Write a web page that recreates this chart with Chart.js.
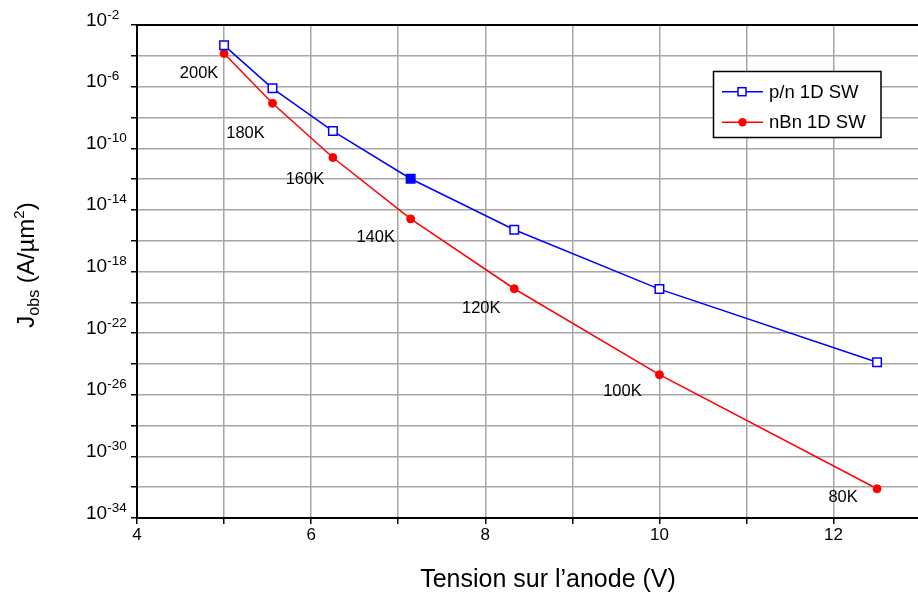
<!DOCTYPE html>
<html>
<head>
<meta charset="utf-8">
<script src="https://cdn.jsdelivr.net/npm/chart.js@4"></script>
<style>
  html, body { margin: 0; padding: 0; background: #fff; }
  canvas { display: block; }
</style>
</head>
<body>
<canvas id="canvasJ" width="918" height="599"></canvas>
<script>
// tension sur l'anode (V) pour chaque température
var tensions = [5.0, 5.556, 6.25, 7.143, 8.333, 10.0, 12.5];
var temperatures = ['200K', '180K', '160K', '140K', '120K', '100K', '80K'];

// densité de courant J_obs (A/µm²)
var pnValues = [4.8e-4, 7.8e-7, 1.3e-9, 1.05e-12, 5.1e-16, 7.2e-20, 1.3e-24];
var nbnValues = [1.4e-4, 8.3e-8, 2.5e-11, 2.6e-15, 7.6e-20, 2.0e-25, 7.9e-33];

var seriesNames = ['p/n 1D SW', 'nBn 1D SW'];

// exposants des graduations de l'axe Y
var yGridExps = [-2, -4, -6, -8, -10, -12, -14, -16, -18, -20, -22, -24, -26, -28, -30, -32, -34];
var yLabelExps = [-2, -6, -10, -14, -18, -22, -26, -30, -34];
var xTicks = [4, 5, 6, 7, 8, 9, 10, 11, 12];
var xLabelTicks = [4, 6, 8, 10, 12];

var FONT = '"Liberation Sans", Arial, sans-serif';

function toPoints(xs, ys) {
  return xs.map(function (x, i) { return { x: x, y: ys[i] }; });
}

// décalage des étiquettes de température par rapport aux points nBn
var labelOffsets = [[-25, 20], [-27, 30], [-28, 22], [-35, 19], [-33, 20], [-37, 17], [-34, 9]];

var decorations = {
  id: 'decorations',
  afterDraw: function (chart) {
    var ctx = chart.ctx;
    var area = chart.chartArea;
    var ys = chart.scales.y;
    ctx.save();

    // bord supérieur
    ctx.strokeStyle = '#000';
    ctx.lineWidth = 2;
    ctx.beginPath();
    ctx.moveTo(area.left, area.top);
    ctx.lineTo(chart.width, area.top);
    ctx.stroke();

    // étiquettes 10^n de l'axe Y
    ctx.fillStyle = '#000';
    ctx.textAlign = 'left';
    ctx.textBaseline = 'alphabetic';
    yLabelExps.forEach(function (e) {
      var y = ys.getPixelForValue(Math.pow(10, e));
      ctx.font = '19px ' + FONT;
      ctx.fillText('10', 86, y + 0.5);
      var w = ctx.measureText('10').width;
      ctx.font = '13.5px ' + FONT;
      ctx.fillText('-' + Math.abs(e), 86 + w, y - 6.5);
    });

    // températures
    ctx.font = '16.5px ' + FONT;
    ctx.textAlign = 'center';
    ctx.textBaseline = 'middle';
    var meta = chart.getDatasetMeta(1);
    meta.data.forEach(function (pt, i) {
      ctx.fillText(temperatures[i], pt.x + labelOffsets[i][0], pt.y + labelOffsets[i][1]);
    });

    // légende
    ctx.fillStyle = '#fff';
    ctx.fillRect(713.5, 71.5, 167.5, 66);
    ctx.strokeStyle = '#000';
    ctx.lineWidth = 1.5;
    ctx.strokeRect(713.5, 71.5, 167.5, 66);
    chart.data.datasets.forEach(function (ds, i) {
      var y = 91.7 + i * 30.6;
      ctx.strokeStyle = ds.borderColor;
      ctx.lineWidth = 1.5;
      ctx.beginPath();
      ctx.moveTo(722, y);
      ctx.lineTo(763, y);
      ctx.stroke();
      if (ds.pointStyle === 'rect') {
        ctx.fillStyle = '#fff';
        ctx.fillRect(738, y - 4, 8, 8);
        ctx.strokeRect(738, y - 4, 8, 8);
      } else {
        ctx.fillStyle = ds.borderColor;
        ctx.beginPath();
        ctx.arc(742.5, y, 4.2, 0, Math.PI * 2);
        ctx.fill();
      }
      ctx.fillStyle = '#000';
      ctx.font = '18.5px ' + FONT;
      ctx.textAlign = 'left';
      ctx.textBaseline = 'middle';
      ctx.fillText(ds.label, 769, y + 1);
    });

    // titre de l'axe X
    ctx.font = '25px ' + FONT;
    ctx.textAlign = 'center';
    ctx.textBaseline = 'alphabetic';
    ctx.fillText('Tension sur l\u2019anode (V)', 548, 587);

    // titre de l'axe Y : J_obs (A/µm²)
    var parts = [
      { t: 'J', f: 24, dy: 0 },
      { t: 'obs', f: 16, dy: 5 },
      { t: ' (A/\u00b5m', f: 24, dy: 0 },
      { t: '2', f: 15, dy: -10 },
      { t: ')', f: 24, dy: 0 }
    ];
    var total = 0;
    parts.forEach(function (p) {
      ctx.font = p.f + 'px ' + FONT;
      p.w = ctx.measureText(p.t).width;
      total += p.w;
    });
    ctx.translate(34, 265);
    ctx.rotate(-Math.PI / 2);
    ctx.textAlign = 'left';
    var x = -total / 2;
    parts.forEach(function (p) {
      ctx.font = p.f + 'px ' + FONT;
      ctx.fillText(p.t, x, p.dy);
      x += p.w;
    });

    ctx.restore();
  }
};

var ctx = document.getElementById('canvasJ').getContext('2d');
var jChart = new Chart(ctx, {
  type: 'line',
  data: {
    datasets: [{
      label: seriesNames[0],
      data: toPoints(tensions, pnValues),
      borderColor: '#0000ff',
      borderWidth: 1.5,
      pointStyle: 'rect',
      pointRadius: 6,
      pointBorderWidth: 1.5,
      pointBorderColor: '#0000ff',
      // le point à 140K est plein
      pointBackgroundColor: ['#fff', '#fff', '#fff', '#0000ff', '#fff', '#fff', '#fff'],
      fill: false,
      tension: 0
    }, {
      label: seriesNames[1],
      data: toPoints(tensions, nbnValues),
      borderColor: '#ff0000',
      borderWidth: 1.5,
      pointStyle: 'circle',
      pointRadius: 4,
      pointBorderWidth: 1,
      pointBorderColor: '#ff0000',
      pointBackgroundColor: '#ff0000',
      fill: false,
      tension: 0
    }]
  },
  options: {
    responsive: false,
    animation: false,
    layout: { autoPadding: false, padding: { top: 25, left: 0, right: 0, bottom: 0 } },
    plugins: {
      legend: { display: false },
      tooltip: { enabled: false }
    },
    scales: {
      x: {
        type: 'linear',
        min: 4,
        max: 12.97,
        afterBuildTicks: function (scale) {
          scale.ticks = xTicks.map(function (v) { return { value: v }; });
        },
        afterFit: function (scale) {
          scale.height = 81;
          scale.paddingLeft = 0;
          scale.paddingRight = 0;
        },
        grid: {
          color: '#a6a6a6',
          lineWidth: 1.5,
          tickColor: '#000',
          tickLength: 6,
          tickWidth: 1.5
        },
        border: { color: '#000', width: 2 },
        ticks: {
          autoSkip: false,
          maxRotation: 0,
          padding: 1,
          color: '#000',
          font: { family: FONT, size: 17 },
          callback: function (v) { return xLabelTicks.indexOf(v) >= 0 ? String(v) : ''; }
        }
      },
      y: {
        type: 'logarithmic',
        min: 1e-34,
        max: 1e-2,
        afterBuildTicks: function (scale) {
          scale.ticks = yGridExps.map(function (e) { return { value: Math.pow(10, e) }; });
        },
        afterFit: function (scale) {
          scale.width = 137;
          scale.paddingTop = 0;
          scale.paddingBottom = 0;
        },
        grid: {
          color: '#a6a6a6',
          lineWidth: 1.5,
          tickColor: '#000',
          tickLength: 6,
          tickWidth: 1.5
        },
        border: { color: '#000', width: 2 },
        ticks: { display: false }
      }
    }
  },
  plugins: [decorations]
});
</script>
</body>
</html>
